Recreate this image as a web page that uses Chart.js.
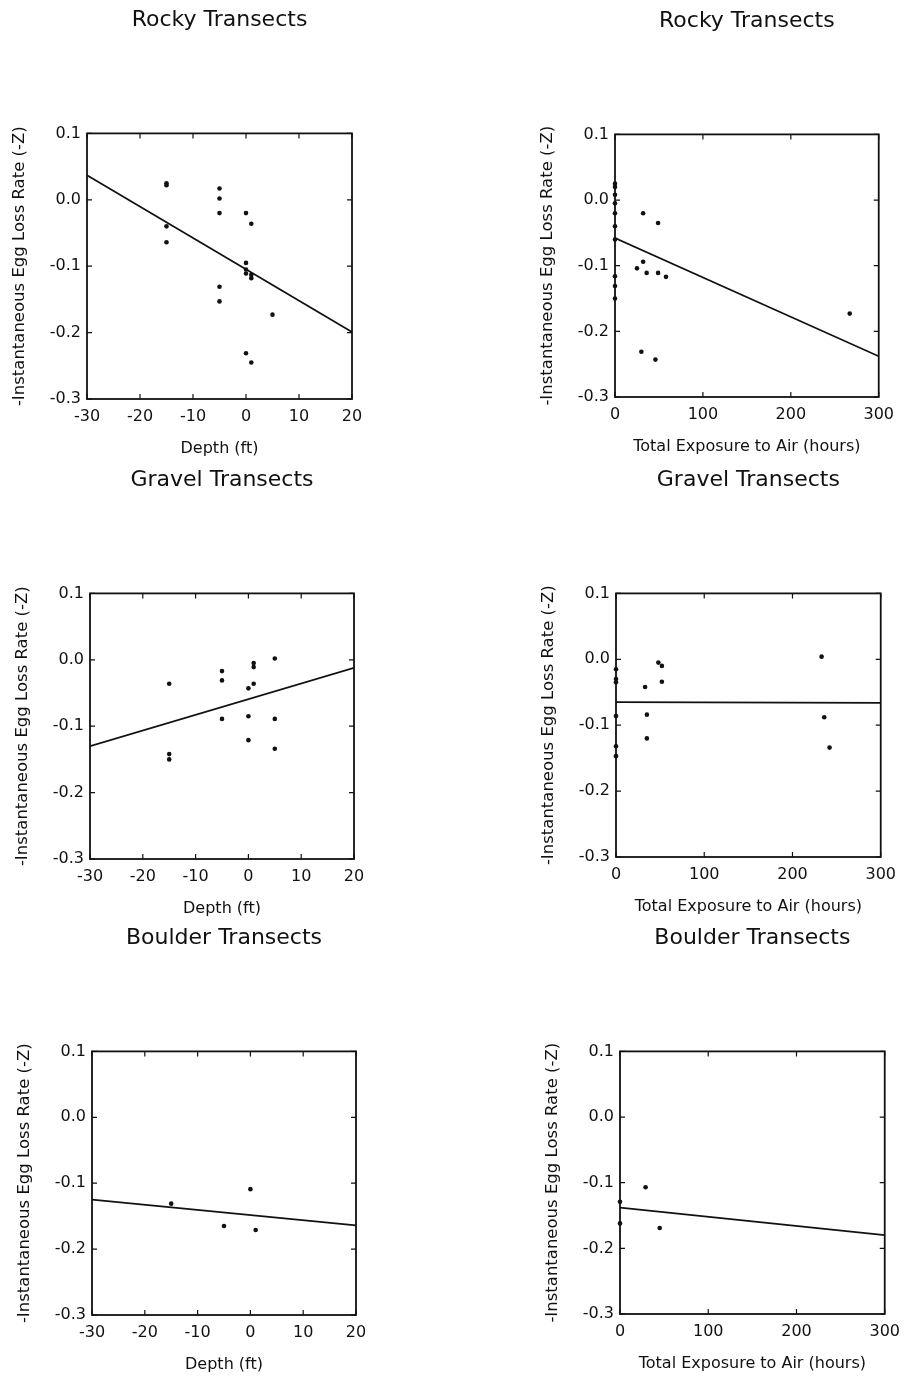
<!DOCTYPE html>
<html lang="en">
<head>
<meta charset="UTF-8">
<title>Instantaneous egg loss rate by transect</title>
<script src="https://cdn.jsdelivr.net/npm/chart.js"></script>
<style>
  body { margin: 0; background: #fff; }
  #page { position: relative; width: 904px; height: 1380px; overflow: hidden; }
  #page canvas { position: absolute; }
</style>
</head>
<body>
<div id="page"></div>
<script>
// ---- axis ticks ----
const depthTicks = [-30, -20, -10, 0, 10, 20];
const exposureTicks = [0, 100, 200, 300];
const rateTicks = [-0.3, -0.2, -0.1, 0, 0.1];
const rateTickLabels = ['-0.3', '-0.2', '-0.1', '0.0', '0.1'];

// ---- Rocky transects ----
const rockyDepthX = [-15, -15, -15, -15, -5, -5, -5, 0, 1, 0, 0, 0, 1, 1, -5, -5, 5, 0, 1];
const rockyDepthY = [0.025, 0.022, -0.040, -0.064, 0.017, 0.002, -0.020, -0.020, -0.036, -0.095,
                     -0.105, -0.111, -0.113, -0.118, -0.131, -0.153, -0.173, -0.231, -0.245];
const rockyDepthFit = [0.037, -0.199];        // at depth -30 and 20

const rockyExpX = [0, 0, 0, 0, 0, 0, 0, 0, 0, 0, 32, 49, 32, 25, 36, 49, 58, 267, 30, 46];
const rockyExpY = [0.025, 0.020, 0.008, -0.005, -0.020, -0.040, -0.060, -0.116, -0.131, -0.150,
                   -0.020, -0.035, -0.094, -0.104, -0.111, -0.111, -0.117, -0.173, -0.231, -0.243];
const rockyExpFit = [-0.058, -0.238];         // at 0 and 300 hours

// ---- Gravel transects ----
const gravelDepthX = [-15, -15, -15, -5, -5, -5, 0, 0, 0, 1, 1, 1, 5, 5, 5];
const gravelDepthY = [-0.036, -0.142, -0.150, -0.017, -0.031, -0.089, -0.043, -0.085, -0.121,
                      -0.005, -0.011, -0.036, 0.002, -0.089, -0.134];
const gravelDepthFit = [-0.130, -0.012];

const gravelExpX = [0, 0, 0, 0, 0, 0, 33, 35, 35, 48, 52, 52, 233, 236, 242];
const gravelExpY = [-0.015, -0.030, -0.035, -0.086, -0.132, -0.147, -0.042, -0.084, -0.120,
                    -0.005, -0.010, -0.034, 0.004, -0.088, -0.134];
const gravelExpFit = [-0.065, -0.066];

// ---- Boulder transects ----
const boulderDepthX = [-15, 0, -5, 1];
const boulderDepthY = [-0.131, -0.109, -0.165, -0.171];
const boulderDepthFit = [-0.125, -0.164];

const boulderExpX = [0, 0, 29, 45];
const boulderExpY = [-0.129, -0.162, -0.107, -0.169];
const boulderExpFit = [-0.138, -0.180];

const depthRange = [-30, 20];
const exposureRange = [0, 300];

const yTitle = '-Instantaneous Egg Loss Rate (-Z)';
const depthTitle = 'Depth (ft)';
const exposureTitle = 'Total Exposure to Air (hours)';

// plot box on the page: [left, top, right, bottom]
const panels = [
  { title: 'Rocky Transects', xTitle: depthTitle, xTicks: depthTicks, range: depthRange,
    x: rockyDepthX, y: rockyDepthY, fit: rockyDepthFit, box: [87, 134, 352, 399] },
  { title: 'Rocky Transects', xTitle: exposureTitle, xTicks: exposureTicks, range: exposureRange,
    x: rockyExpX, y: rockyExpY, fit: rockyExpFit, box: [615, 135, 880, 397] },
  { title: 'Gravel Transects', xTitle: depthTitle, xTicks: depthTicks, range: depthRange,
    x: gravelDepthX, y: gravelDepthY, fit: gravelDepthFit, box: [90, 594, 354, 859] },
  { title: 'Gravel Transects', xTitle: exposureTitle, xTicks: exposureTicks, range: exposureRange,
    x: gravelExpX, y: gravelExpY, fit: gravelExpFit, box: [616, 594, 882, 857] },
  { title: 'Boulder Transects', xTitle: depthTitle, xTicks: depthTicks, range: depthRange,
    x: boulderDepthX, y: boulderDepthY, fit: boulderDepthFit, box: [92, 1052, 356, 1315] },
  { title: 'Boulder Transects', xTitle: exposureTitle, xTicks: exposureTicks, range: exposureRange,
    x: boulderExpX, y: boulderExpY, fit: boulderExpFit, box: [620, 1052, 886, 1314] }
];

const FONT = 'DejaVu Sans';
const INK = '#111';
const LEFT = 87, TOP = 134, RIGHT = 22, BOTTOM = 66;

// frame round the plot with short inward tick marks on all four sides
const framePlugin = {
  id: 'frame',
  afterDraw(chart) {
    const { ctx, chartArea: a, scales } = chart;
    ctx.save();
    ctx.strokeStyle = INK;
    ctx.lineWidth = 1.8;
    ctx.strokeRect(a.left, a.top, a.right - a.left, a.bottom - a.top);
    ctx.lineWidth = 1.2;
    ctx.beginPath();
    scales.x.ticks.forEach(t => {
      const px = scales.x.getPixelForValue(t.value);
      ctx.moveTo(px, a.bottom); ctx.lineTo(px, a.bottom - 5);
      ctx.moveTo(px, a.top); ctx.lineTo(px, a.top + 5);
    });
    scales.y.ticks.forEach(t => {
      const py = scales.y.getPixelForValue(t.value);
      ctx.moveTo(a.left, py); ctx.lineTo(a.left + 5, py);
      ctx.moveTo(a.right, py); ctx.lineTo(a.right - 5, py);
    });
    ctx.stroke();
    ctx.restore();
  }
};

const page = document.getElementById('page');

panels.forEach(p => {
  const [l, t, r, b] = p.box;
  const canvas = document.createElement('canvas');
  canvas.width = (r - l) + LEFT + RIGHT;
  canvas.height = (b - t) + TOP + BOTTOM;
  canvas.style.left = (l - LEFT) + 'px';
  canvas.style.top = (t - TOP) + 'px';
  page.appendChild(canvas);

  new Chart(canvas, {
    type: 'scatter',
    data: {
      datasets: [
        {
          data: p.x.map((v, i) => ({ x: v, y: p.y[i] })),
          pointRadius: 2.3,
          pointBackgroundColor: INK,
          pointBorderWidth: 0,
          clip: false
        },
        {
          data: p.range.map((v, i) => ({ x: v, y: p.fit[i] })),
          showLine: true,
          borderColor: INK,
          borderWidth: 1.8,
          pointRadius: 0
        }
      ]
    },
    options: {
      responsive: false,
      animation: false,
      layout: { padding: { left: 0, right: RIGHT, top: 0, bottom: 0 } },
      plugins: {
        legend: { display: false },
        tooltip: { enabled: false },
        title: {
          display: true,
          text: p.title,
          fullSize: false,
          color: INK,
          font: { family: FONT, size: 22, weight: 'normal' },
          padding: { top: 7, bottom: 100 }
        }
      },
      scales: {
        x: {
          type: 'linear',
          min: p.range[0],
          max: p.range[1],
          afterBuildTicks: s => { s.ticks = p.xTicks.map(v => ({ value: v })); },
          afterFit: s => { s.height = BOTTOM; },
          grid: { display: false, drawTicks: false },
          border: { display: false },
          ticks: { color: INK, font: { family: FONT, size: 16 }, padding: 8, maxRotation: 0, autoSkip: false },
          title: {
            display: true,
            text: p.xTitle,
            color: INK,
            font: { family: FONT, size: 16 },
            padding: { top: 0, bottom: 7 }
          }
        },
        y: {
          type: 'linear',
          min: -0.3,
          max: 0.1,
          afterBuildTicks: s => { s.ticks = rateTicks.map(v => ({ value: v })); },
          afterFit: s => { s.width = LEFT; },
          grid: { display: false, drawTicks: false },
          border: { display: false },
          ticks: {
            color: INK,
            font: { family: FONT, size: 16 },
            padding: 6,
            callback: v => rateTickLabels[rateTicks.indexOf(v)]
          },
          title: {
            display: true,
            text: yTitle,
            color: INK,
            font: { family: FONT, size: 16.5 },
            padding: { top: 10, bottom: 0 }
          }
        }
      }
    },
    plugins: [framePlugin]
  });
});
</script>
</body>
</html>
